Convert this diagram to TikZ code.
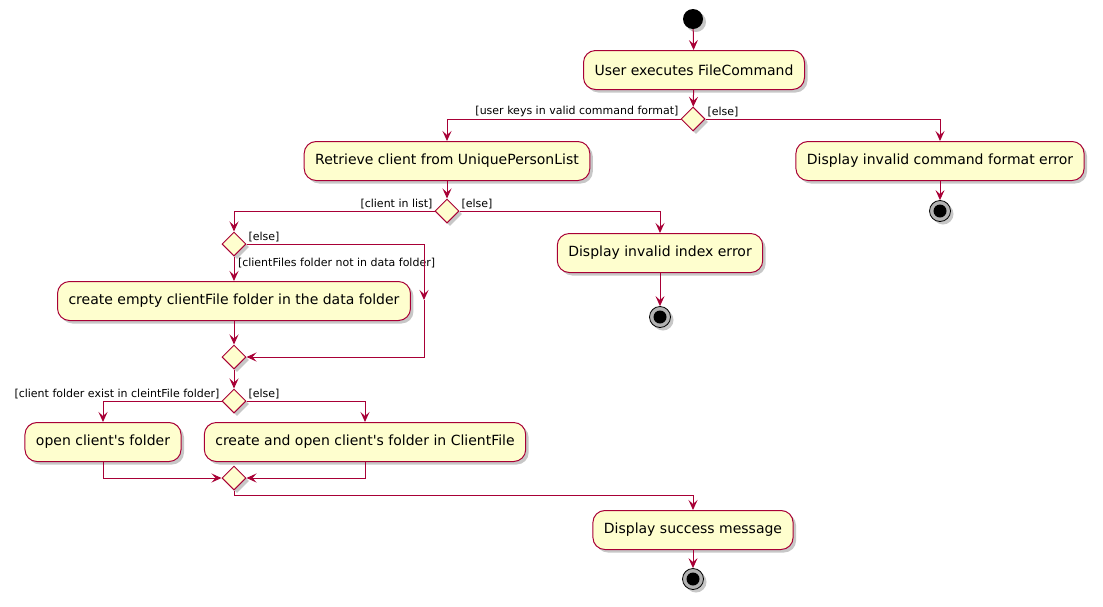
\documentclass[tikz,border=0pt]{standalone}
\usepackage{fontspec}
\setmainfont{DejaVu Sans}
\usetikzlibrary{arrows.meta,shapes.geometric,shadows}
\definecolor{umlred}{HTML}{A80036}
\definecolor{umlfill}{HTML}{FEFECE}
\tikzset{
    shad/.style={drop shadow={shadow xshift=3pt, shadow yshift=-3pt, fill=black, opacity=0.22}},
    act/.style={draw=umlred, fill=umlfill, line width=1pt, rounded corners=12pt,
        minimum height=39pt, inner xsep=11pt, font=\fontsize{14}{16}\selectfont, shad},
    dec/.style={diamond, draw=umlred, fill=umlfill, line width=1pt, inner sep=0pt,
        minimum width=24pt, minimum height=24pt, shad},
    startdot/.style={circle, fill=black, minimum size=20pt, inner sep=0pt, shad},
    stopdot/.style={circle, draw=black, fill=black!30, line width=0.8pt, minimum size=21pt,
        inner sep=0pt, shad, path picture={\fill[black] (path picture bounding box.center) circle (6.5pt);}},
    arr/.style={draw=umlred, line width=1pt, -{Stealth[length=10pt, width=9pt, inset=4pt]}},
    guard/.style={font=\fontsize{11}{13}\selectfont, inner sep=1.5pt}
}

\begin{document}
\begin{tikzpicture}[x=1pt, y=-1pt]
    \useasboundingbox (0,0) rectangle (1103,606);
    \node[startdot] (st) at (693,19) {};
    \node[act] (b1) at (694,70) {User executes FileCommand};
    \node[dec] (d1) at (693,119) {};
    \node[act] (b2) at (447,161) {Retrieve client from UniquePersonList};
    \node[act] (b3) at (940,161) {Display invalid command format error};
    \node[stopdot] (e3) at (940,211) {};
    \node[dec] (d2) at (447,211) {};
    \node[act] (b4) at (660,253) {Display invalid index error};
    \node[stopdot] (e4) at (660,317) {};
    \node[dec] (d3) at (234,244) {};
    \node[act] (b5) at (234,301) {create empty clientFile folder in the data folder};
    \coordinate (c3) at (424,300);
    \node[dec] (d4) at (234,357) {};
    \node[dec] (d5) at (234,401) {};
    \node[act] (b6) at (103,442) {open client\textquotesingle s folder};
    \node[act] (b7) at (365,442) {create and open client\textquotesingle s folder in ClientFile};
    \node[dec] (d6) at (234,478) {};
    \node[act] (b8) at (693,530) {Display success message};
    \node[stopdot] (e8) at (693,579) {};

    \draw[arr] (st) -- (b1);
    \draw[arr] (b1) -- (d1);
    \draw[arr] (d1.west) node[guard, above left] {[user keys in valid command format]} -| (b2.north);
    \draw[arr] (d1.east) node[guard, above right] {[else]} -| (b3.north);
    \draw[arr] (b3) -- (e3);
    \draw[arr] (b2) -- (d2);
    \draw[arr] (d2.west) node[guard, above left] {[client in list]} -| (d3.north);
    \draw[arr] (d2.east) node[guard, above right] {[else]} -| (b4.north);
    \draw[arr] (b4) -- (e4);
    \draw[arr] (d3.south) node[guard, below right, xshift=2pt] {[clientFiles folder not in data folder]} -- (b5);
    \draw[arr] (d3.east) node[guard, above right] {[else]} -| (c3);
    \draw[arr] (c3) |- (d4.east);
    \draw[arr] (b5) -- (d4);
    \draw[arr] (d4) -- (d5);
    \draw[arr] (d5.west) node[guard, above left] {[client folder exist in cleintFile folder]} -| (b6.north);
    \draw[arr] (d5.east) node[guard, above right] {[else]} -| (b7.north);
    \draw[arr] (b6.south) |- (d6.west);
    \draw[arr] (b7.south) |- (d6.east);
    \draw[arr] (d6.south) -- ++(0,5) -| (b8.north);
    \draw[arr] (b8) -- (e8);
\end{tikzpicture}
\end{document}
